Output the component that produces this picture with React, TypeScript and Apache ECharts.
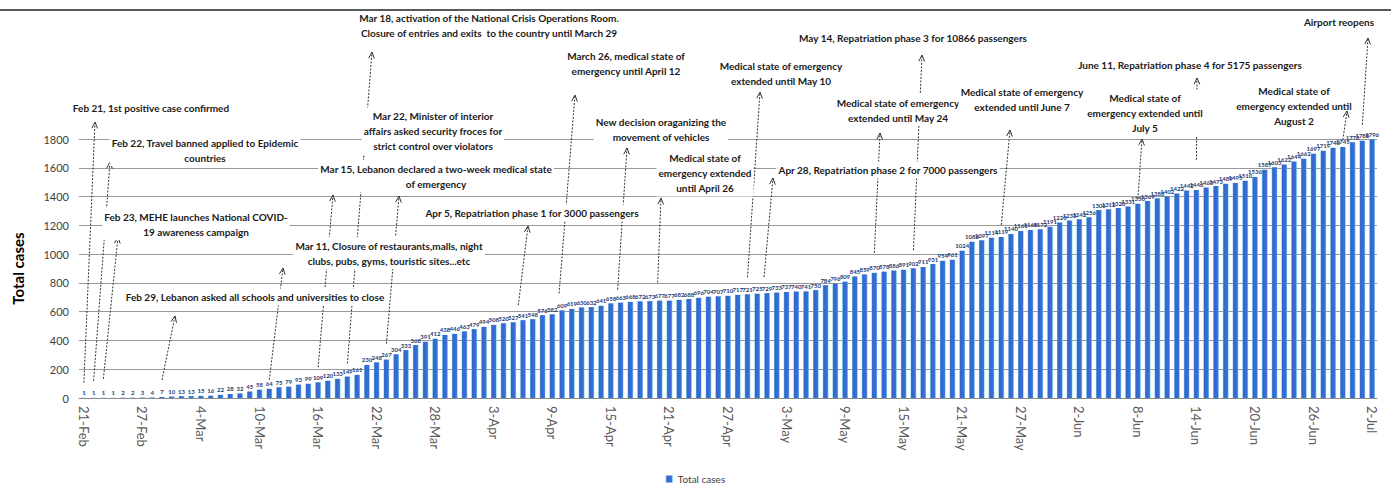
import React, { useEffect, useRef } from "react";
import * as echarts from "echarts";

// ---------- DATA ----------
const monthSpans: [string, number, number][] = [
  ["Feb", 21, 29],
  ["Mar", 1, 31],
  ["Apr", 1, 30],
  ["May", 1, 31],
  ["Jun", 1, 30],
  ["Jul", 1, 2],
];
const dates: string[] = [];
for (const [m, a, b] of monthSpans) for (let d = a; d <= b; d++) dates.push(`${d}-${m}`);

const casesFebMar = [1, 1, 1, 1, 2, 2, 3, 4, 7, 10, 13, 13, 15, 16, 22, 28, 32, 45, 58, 64, 75, 79, 93, 99, 109, 120, 133, 149, 161, 230, 248, 267, 304, 333, 368, 391, 412, 438, 446, 463, 479, 494, 508, 520, 527, 541, 548, 576, 582];
const casesApr = [609, 619, 630, 632, 641, 658, 663, 668, 672, 673, 677, 677, 682, 688, 696, 704, 707, 710, 717, 721, 725, 729, 733, 737, 740];
const casesMay = [741, 750, 784, 796, 809, 845, 859, 870, 878, 886, 891, 902, 911, 931, 954, 961, 1024, 1086, 1097, 1114, 1119, 1140, 1161, 1168, 1172];
const casesJun = [1191, 1220, 1233, 1242, 1256, 1306, 1312, 1320, 1331, 1350, 1369, 1388, 1402, 1422, 1442, 1446, 1463, 1473, 1489, 1495, 1510, 1536];
const casesLate = [1587, 1603, 1622, 1644, 1662, 1697, 1719, 1740, 1745, 1778, 1788, 1796];
const totalCases = [...casesFebMar, ...casesApr, ...casesMay, ...casesJun, ...casesLate];

const annotationTexts = [
  "Feb 21, 1st positive case confirmed",
  "Feb 22, Travel banned applied to Epidemic\ncountries",
  "Feb 23, MEHE launches National COVID-\n19 awareness campaign",
  "Feb 29, Lebanon asked all schools and universities to close",
  "Mar 11, Closure of restaurants,malls, night\nclubs, pubs, gyms, touristic sites...etc",
  "Mar 15, Lebanon declared a two-week medical state\nof emergency",
  "Mar 18, activation of the National Crisis Operations Room.\nClosure of entries and exits  to the country until March 29",
  "Mar 22, Minister of interior\naffairs asked security froces for\nstrict control over violators",
  "March 26, medical state of\nemergency until April 12",
  "Apr 5, Repatriation phase 1 for 3000 passengers",
  "New decision oraganizing the\nmovement of vehicles",
  "Medical state of\nemergency extended\nuntil April 26",
  "Medical state of emergency\nextended until May 10",
  "Apr 28, Repatriation phase 2 for 7000 passengers",
  "May 14, Repatriation phase 3 for 10866 passengers",
  "Medical state of emergency\nextended until May 24",
  "Medical state of emergency\nextended until June 7",
  "Medical state of\nemergency extended until\nJuly 5",
  "June 11, Repatriation phase 4 for 5175 passengers",
  "Medical state of\nemergency extended until\nAugust 2",
  "Airport reopens",
];
// bar each dashed arrow starts from
const annotationDates = [
  "21-Feb", "22-Feb", "23-Feb", "29-Feb", "11-Mar", "16-Mar", "19-Mar", "23-Mar",
  "10-Apr", "5-Apr", "16-Apr", "20-Apr", "29-Apr", "1-May", "16-May", "12-May",
  "25-May", "8-Jun", "14-Jun", "29-Jun", "1-Jul",
];

// ---------- LAYOUT (pixels) ----------
// [textX, textY, tipX, tipY, gapAboveBar, dx, arrowOnTop]
const annotationLayout: number[][] = [
  [151, 108, 95, 122, 15, 0, 0],
  [205, 150, 110, 162, 17, 0, 0],
  [196, 224, 118, 237, 19, 0, 0],
  [255, 297, 175, 316, 17, 0, 0],
  [389, 253, 283, 268, 9, 0, 0],
  [436, 176, 333, 195, 15, 0, 0],
  [489, 25, 372, 52, 13, 0, 0],
  [433, 131, 399, 196, 16, 0, 0],
  [626, 63, 575, 95, 17, -3, 0],
  [532, 213, 528, 226, 17, 5, 0],
  [661, 129, 627, 148, 13, -3, 0],
  [705, 173, 661, 198, 18, -2, 0],
  [781, 73, 760, 92, 17, 0, 0],
  [888, 170, 773, 178, 16, -3, 0],
  [913, 38, 922, 55, 18, 0, 0],
  [898, 110, 880, 133, 20, 0, 0],
  [1022, 99, 1010, 130, 12, 0, 0],
  [1145, 113, 1142, 139, 5, 0, 0],
  [1190, 65, 1197, 78, 30, 0, 0],
  [1294, 106, 1347, 111, 7, 0, 1],
  [1339, 22, 1368, 38, 16, 0, 0],
];

const W = 1391;
const H = 490;
const FONT = "Lato, 'Open Sans', sans-serif";

export default function App() {
  const ref = useRef<HTMLDivElement>(null);
  useEffect(() => {
    if (!ref.current) return;
    const chart = echarts.init(ref.current, null, { renderer: "svg" });
    chart.setOption({
      animation: false,
      backgroundColor: "#fff",
      grid: { left: 79, right: 14, top: 139, bottom: 92 },
      legend: {
        bottom: 1,
        left: "center",
        itemWidth: 7,
        itemHeight: 7,
        icon: "rect",
        textStyle: { fontSize: 10, color: "#404040", fontFamily: FONT },
        data: ["Total cases"],
      },
      xAxis: {
        type: "category",
        data: dates,
        axisLine: { lineStyle: { color: "#8c8c8c" } },
        axisTick: { interval: 2, alignWithLabel: true, length: 5, lineStyle: { color: "#8c8c8c" } },
        axisLabel: {
          interval: 5,
          rotate: -90,
          fontSize: 13,
          color: "#595959",
          fontFamily: FONT,
          margin: 8,
        },
      },
      yAxis: {
        type: "value",
        min: 0,
        max: 1800,
        interval: 200,
        name: "Total cases",
        nameLocation: "middle",
        nameGap: 54,
        nameTextStyle: { fontSize: 15, fontWeight: "bold", color: "#000", fontFamily: FONT },
        axisLine: { show: false },
        axisTick: { show: false },
        axisLabel: {
          fontSize: 11,
          color: "#404040",
          fontFamily: FONT,
          margin: 10,
          formatter: (v: number) => String(v),
        },
        splitLine: { lineStyle: { color: "#999", width: 1 } },
      },
      series: [
        {
          name: "Total cases",
          type: "bar",
          data: totalCases,
          barWidth: "58%",
          itemStyle: {
            color: new echarts.graphic.LinearGradient(0, 0, 1, 0, [
              { offset: 0, color: "#69c4e6" },
              { offset: 0.18, color: "#3366cc" },
              { offset: 0.8, color: "#3b6fd8" },
              { offset: 1, color: "#7fd8ec" },
            ]),
          },
          label: {
            show: true,
            position: "top",
            distance: 2,
            fontSize: 6,
            fontWeight: "bold",
            color: "#1f3b73",
            fontFamily: FONT,
          },
        },
      ],
    });

    const graphics: any[] = [
      { type: "line", shape: { x1: 0, y1: 10, x2: W, y2: 10 }, style: { stroke: "#222", lineWidth: 1.5 }, z: 20 },
    ];
    annotationTexts.forEach((text, i) => {
      const [tx, ty, px, py, gap, dx, onTop] = annotationLayout[i];
      const idx = dates.indexOf(annotationDates[i]);
      const p = chart.convertToPixel({ seriesIndex: 0 }, [idx, totalCases[idx]]) as number[];
      const bx = p[0] + dx;
      const by = p[1] - gap;
      const az = onTop ? 15 : 5;
      graphics.push({
        type: "line",
        shape: { x1: bx, y1: by, x2: px, y2: py },
        style: { stroke: "#333", lineWidth: 1, lineDash: [2, 1.5] },
        z: az,
      });
      const ang = Math.atan2(by - py, bx - px);
      const len = 7;
      const spread = 0.42;
      graphics.push({
        type: "polyline",
        shape: {
          points: [
            [px + len * Math.cos(ang - spread), py + len * Math.sin(ang - spread)],
            [px, py],
            [px + len * Math.cos(ang + spread), py + len * Math.sin(ang + spread)],
          ],
        },
        style: { stroke: "#333", lineWidth: 1, fill: null },
        z: az,
      });
      graphics.push({
        type: "text",
        x: tx,
        y: ty,
        z: 10,
        style: {
          text,
          fill: "#1a1a1a",
          fontSize: 10,
          fontWeight: "bold",
          fontFamily: FONT,
          align: "center",
          verticalAlign: "middle",
          textAlign: "center",
          textVerticalAlign: "middle",
          lineHeight: 15,
          backgroundColor: "#fff",
          padding: [1, 2],
        },
      });
    });
    chart.setOption({ graphic: graphics });
    return () => chart.dispose();
  }, []);
  return (
    <div
      ref={ref}
      style={{ position: "absolute", left: 0, top: 0, width: W, height: H, background: "#fff" }}
    />
  );
}
